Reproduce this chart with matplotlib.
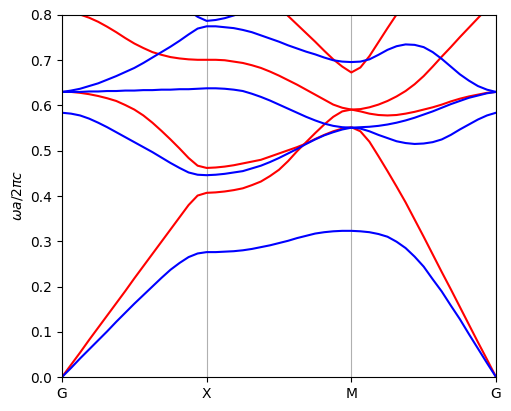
import numpy as np
import matplotlib
matplotlib.use("Agg")
import matplotlib.pyplot as plt

nan = np.nan
# k-point index along G-X-M-G, 16 samples per segment
k_labels = ["G", "X", "M", "G"]
k_ticks = [0, 1, 2, 3]
k = np.arange(49) / 16.0

# TE-like bands (blue)
te1 = [0, 0.020, 0.041, 0.061, 0.081, 0.101, 0.122, 0.142, 0.162, 0.181, 0.200, 0.219, 0.237, 0.252, 0.265, 0.273, 0.276,
       0.276, 0.277, 0.278, 0.280, 0.283, 0.287, 0.291, 0.296, 0.301, 0.307, 0.312, 0.317, 0.320, 0.322, 0.323, 0.323,
       0.322, 0.320, 0.316, 0.310, 0.299, 0.285, 0.266, 0.244, 0.216, 0.189, 0.158, 0.128, 0.095, 0.063, 0.031, 0.0]
te2 = [0.584, 0.582, 0.578, 0.571, 0.562, 0.552, 0.541, 0.530, 0.519, 0.508, 0.497, 0.485, 0.473, 0.462, 0.452, 0.447, 0.446,
       0.447, 0.449, 0.452, 0.455, 0.461, 0.467, 0.475, 0.484, 0.494, 0.504, 0.515, 0.525, 0.534, 0.541, 0.547, 0.551,
       0.549, 0.543, 0.535, 0.528, 0.521, 0.517, 0.515, 0.516, 0.519, 0.525, 0.535, 0.547, 0.558, 0.569, 0.578, 0.584]
te3 = [0.630, 0.630, 0.630, 0.631, 0.631, 0.632, 0.632, 0.633, 0.633, 0.634, 0.634, 0.635, 0.635, 0.636, 0.636, 0.637, 0.638,
       0.638, 0.637, 0.635, 0.632, 0.626, 0.619, 0.611, 0.602, 0.593, 0.584, 0.575, 0.567, 0.560, 0.555, 0.552, 0.551,
       0.552, 0.553, 0.555, 0.558, 0.562, 0.567, 0.573, 0.580, 0.587, 0.595, 0.603, 0.610, 0.617, 0.622, 0.627, 0.630]
te4 = [0.630, 0.633, 0.637, 0.643, 0.649, 0.657, 0.665, 0.674, 0.683, 0.694, 0.706, 0.718, 0.730, 0.743, 0.757, 0.770, 0.775,
       0.775, 0.773, 0.771, 0.767, 0.762, 0.755, 0.748, 0.741, 0.733, 0.726, 0.719, 0.713, 0.706, 0.700, 0.697, 0.696,
       0.697, 0.702, 0.712, 0.723, 0.731, 0.735, 0.734, 0.729, 0.718, 0.703, 0.686, 0.669, 0.655, 0.643, 0.635, 0.630]
te5 = [nan] * 14 + [0.810, 0.796, 0.787, 0.789, 0.793, 0.799, 0.806] + [nan] * 28

# TM-like bands (red)
tm_a = [0, 0.027, 0.054, 0.082, 0.109, 0.136, 0.163, 0.190, 0.218, 0.245, 0.272, 0.299, 0.326, 0.353, 0.380, 0.401, 0.407,
        0.408, 0.410, 0.413, 0.417, 0.424, 0.432, 0.444, 0.458, 0.477, 0.499, 0.519, 0.539, 0.558, 0.575, 0.587, 0.591,
        0.587, 0.582, 0.579, 0.578, 0.579, 0.582, 0.586, 0.591, 0.596, 0.602, 0.609, 0.615, 0.620, 0.624, 0.628, 0.630]
tm_b = [0.630, 0.630, 0.628, 0.625, 0.621, 0.616, 0.610, 0.601, 0.591, 0.578, 0.562, 0.544, 0.525, 0.505, 0.484, 0.467, 0.462,
        0.463, 0.465, 0.468, 0.472, 0.476, 0.480, 0.487, 0.494, 0.501, 0.508, 0.516, 0.526, 0.535, 0.543, 0.549, 0.552,
        0.543, 0.520, 0.488, 0.455, 0.421, 0.386, 0.348, 0.310, 0.271, 0.232, 0.194, 0.155, 0.116, 0.077, 0.039, 0.0]
tm_c = [0.815, 0.808, 0.801, 0.794, 0.785, 0.774, 0.762, 0.749, 0.737, 0.727, 0.718, 0.712, 0.707, 0.704, 0.702, 0.701, 0.701,
        0.701, 0.700, 0.697, 0.694, 0.689, 0.683, 0.675, 0.666, 0.656, 0.646, 0.635, 0.624, 0.613, 0.602, 0.595, 0.591,
        0.592, 0.596, 0.602, 0.610, 0.620, 0.632, 0.647, 0.665, 0.686, 0.708, 0.729, 0.751, 0.772, 0.793, 0.814, 0.835]
tm_d = [nan] * 24 + [0.818, 0.798, 0.779, 0.760, 0.741, 0.721, 0.702, 0.686, 0.673, 0.684, 0.709, 0.740, 0.771,
                     0.801, 0.832] + [nan] * 10

fig = plt.figure(figsize=(5.11, 4.11), dpi=100)
ax = fig.add_axes([62 / 511, 1 - 377 / 411, 434 / 511, 362 / 411])

for band in (tm_a, tm_b, tm_c, tm_d):
    ax.plot(k, band, color="red", lw=1.5)
for band in (te1, te2, te3, te4, te5):
    ax.plot(k, band, color="blue", lw=1.5)

ax.set_xlim(0, 3)
ax.set_ylim(0, 0.8)
ax.set_xticks(k_ticks)
ax.set_xticklabels(k_labels)
ax.set_yticks(np.arange(0, 0.81, 0.1))
ax.grid(axis="x")
ax.set_ylabel(r"$\omega a/2\pi c$")

fig.savefig("out.png", dpi=100)
